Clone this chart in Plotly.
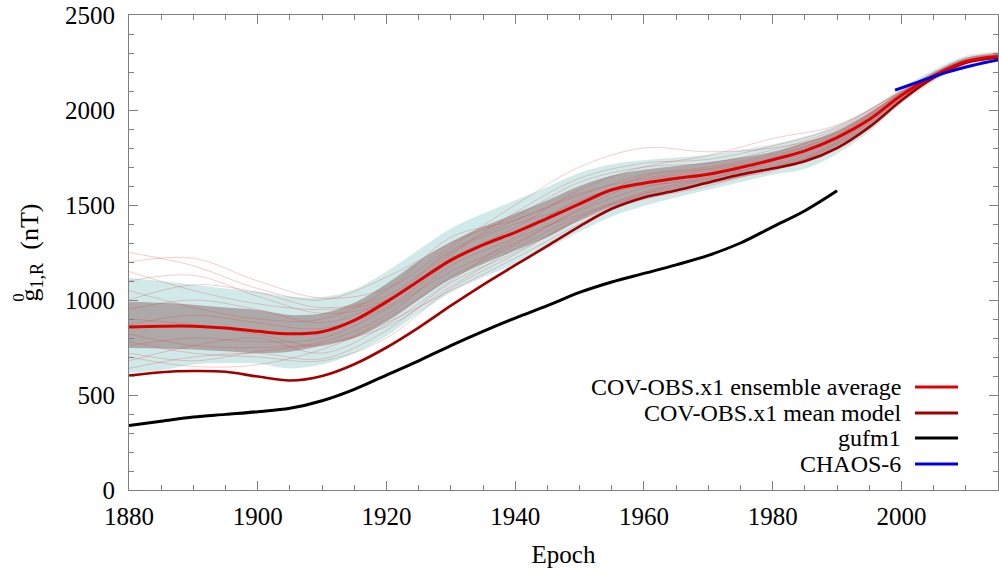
import plotly.graph_objects as go

# ---------------- data ----------------
years5 = [1880, 1885, 1890, 1895, 1900, 1905, 1910, 1915, 1920, 1925, 1930, 1935, 1940,
          1945, 1950, 1955, 1960, 1965, 1970, 1975, 1980, 1985, 1990, 1995, 2000, 2005,
          2010, 2015]

ens_avg = [858, 862, 862, 852, 835, 822, 833, 893, 990, 1100, 1210, 1290, 1356,
           1430, 1506, 1580, 1615, 1640, 1662, 1697, 1738, 1785, 1855, 1950, 2078, 2180,
           2255, 2282]

mean_model = [602, 620, 626, 622, 597, 576, 600, 662, 750, 855, 970, 1080, 1183,
              1285, 1388, 1480, 1540, 1576, 1618, 1660, 1692, 1730, 1800, 1910, 2050, 2170,
              2248, 2275]

cyan_lo = [616, 630, 660, 668, 665, 640, 660, 720, 810, 930, 1040, 1120, 1190,
           1270, 1360, 1440, 1495, 1540, 1580, 1620, 1660, 1690, 1770, 1885, 2035, 2150,
           2235, 2262]
cyan_hi = [1116, 1100, 1080, 1060, 1044, 1018, 1015, 1055, 1150, 1265, 1375, 1455, 1525,
           1595, 1670, 1715, 1735, 1750, 1765, 1790, 1820, 1860, 1920, 2005, 2115, 2210,
           2285, 2305]
gray_lo = [747, 745, 740, 730, 721, 728, 760, 800, 885, 1000, 1110, 1190, 1260,
           1330, 1420, 1490, 1540, 1580, 1610, 1650, 1690, 1735, 1810, 1910, 2050, 2160,
           2245, 2270]
gray_hi = [991, 985, 975, 960, 947, 921, 930, 985, 1085, 1205, 1305, 1385, 1455,
           1525, 1600, 1655, 1685, 1705, 1725, 1750, 1780, 1830, 1890, 1985, 2100, 2200,
           2275, 2295]

gufm_years = [1880, 1885, 1890, 1895, 1900, 1905, 1910, 1915, 1920, 1925, 1930, 1935,
              1940, 1945, 1950, 1955, 1960, 1965, 1970, 1975, 1980, 1985, 1990]
gufm1 = [340, 362, 384, 398, 412, 430, 470, 530, 605, 680, 760, 835,
         905, 970, 1040, 1095, 1140, 1185, 1235, 1300, 1385, 1470, 1575]

chaos_years = [1999, 2003, 2007, 2011, 2015]
chaos6 = [2105, 2152, 2198, 2234, 2263]

# a handful of visible ensemble members
years10 = [1880, 1890, 1900, 1910, 1920, 1930, 1940, 1950, 1960, 1970, 1980, 1990, 2000, 2010, 2015]
members = [
    [1250, 1180, 1060, 1000, 1120, 1300, 1440, 1620, 1700, 1720, 1790, 1900, 2100, 2270, 2300],
    [1200, 1220, 1100, 1010, 1060, 1280, 1500, 1700, 1800, 1780, 1800, 1880, 2090, 2262, 2290],
    [640, 700, 720, 690, 840, 1090, 1250, 1420, 1530, 1600, 1700, 1820, 2060, 2245, 2275],
    [700, 650, 660, 740, 880, 1050, 1220, 1400, 1560, 1630, 1680, 1830, 2070, 2250, 2280],
    [1050, 960, 900, 900, 1050, 1330, 1420, 1560, 1640, 1690, 1760, 1870, 2085, 2258, 2286],
    [760, 800, 780, 800, 950, 1150, 1300, 1470, 1590, 1650, 1720, 1840, 2072, 2252, 2280],
    [950, 1000, 950, 880, 1000, 1250, 1400, 1500, 1650, 1690, 1750, 1880, 2080, 2256, 2284],
    [820, 760, 750, 780, 920, 1180, 1330, 1530, 1600, 1640, 1730, 1860, 2076, 2254, 2282],
    [1150, 1050, 980, 950, 1000, 1220, 1380, 1580, 1700, 1760, 1850, 1920, 2095, 2262, 2290],
    [680, 760, 800, 720, 870, 1100, 1320, 1450, 1560, 1620, 1700, 1800, 2060, 2248, 2276],
    [900, 870, 820, 760, 900, 1120, 1290, 1480, 1620, 1670, 1740, 1850, 2070, 2252, 2281],
    [1000, 1080, 1040, 960, 1020, 1260, 1420, 1550, 1660, 1700, 1770, 1890, 2088, 2260, 2288],
    [780, 720, 700, 680, 800, 1060, 1240, 1430, 1570, 1640, 1710, 1830, 2066, 2250, 2279],
    [870, 920, 880, 850, 960, 1200, 1360, 1520, 1630, 1680, 1745, 1865, 2082, 2256, 2285],
    [1100, 1130, 1020, 930, 990, 1240, 1460, 1640, 1720, 1740, 1810, 1910, 2098, 2266, 2294],
    [720, 680, 730, 770, 860, 1070, 1270, 1440, 1550, 1610, 1690, 1815, 2058, 2246, 2274],
]

legend_labels = ["COV-OBS.x1 ensemble average", "COV-OBS.x1 mean model", "gufm1", "CHAOS-6"]
legend_colors = ["#e00000", "#a00000", "#000000", "#0000e0"]

x_ticks = [1880, 1900, 1920, 1940, 1960, 1980, 2000]
y_ticks = [0, 500, 1000, 1500, 2000, 2500]

# ---------------- figure ----------------
FONT = "Liberation Serif"
fig = go.Figure()

# cyan band
fig.add_trace(go.Scatter(x=years5, y=cyan_lo, mode="lines", line=dict(width=0, shape="spline"),
                         showlegend=False, hoverinfo="skip"))
fig.add_trace(go.Scatter(x=years5, y=cyan_hi, mode="lines", line=dict(width=0, shape="spline"),
                         fill="tonexty", fillcolor="rgba(200,230,230,0.85)",
                         showlegend=False, hoverinfo="skip"))
# gray band
fig.add_trace(go.Scatter(x=years5, y=gray_lo, mode="lines", line=dict(width=0, shape="spline"),
                         showlegend=False, hoverinfo="skip"))
fig.add_trace(go.Scatter(x=years5, y=gray_hi, mode="lines", line=dict(width=0, shape="spline"),
                         fill="tonexty", fillcolor="rgba(150,125,125,0.6)",
                         showlegend=False, hoverinfo="skip"))

for m in members:
    fig.add_trace(go.Scatter(x=years10, y=m, mode="lines",
                             line=dict(width=0.8, color="rgba(225,70,70,0.35)", shape="spline"),
                             showlegend=False, hoverinfo="skip"))

fig.add_trace(go.Scatter(x=gufm_years, y=gufm1, mode="lines",
                         line=dict(width=3, color=legend_colors[2], shape="spline"), showlegend=False))
fig.add_trace(go.Scatter(x=years5, y=mean_model, mode="lines",
                         line=dict(width=2.6, color=legend_colors[1], shape="spline"), showlegend=False))
fig.add_trace(go.Scatter(x=years5, y=ens_avg, mode="lines",
                         line=dict(width=3, color=legend_colors[0], shape="spline"), showlegend=False))
fig.add_trace(go.Scatter(x=chaos_years, y=chaos6, mode="lines",
                         line=dict(width=3, color=legend_colors[3], shape="spline"), showlegend=False))

axis_common = dict(showgrid=False, zeroline=False, showline=True, linecolor="#808080", linewidth=1,
                   mirror="ticks", ticks="inside", tickcolor="#808080", ticklen=9, tickwidth=1,
                   tickfont=dict(family=FONT, size=25, color="black"))

fig.update_xaxes(range=[1880, 2015], tickvals=x_ticks,
                 minor=dict(dtick=5, ticks="inside", ticklen=5, tickcolor="#808080", showgrid=False),
                 ticklabelstandoff=4,
                 title=dict(text="Epoch", font=dict(family=FONT, size=25, color="black"), standoff=16),
                 **axis_common)
fig.update_yaxes(range=[0, 2500], tickvals=y_ticks,
                 minor=dict(dtick=100, ticks="inside", ticklen=5, tickcolor="#808080", showgrid=False),
                 ticklabelstandoff=8,
                 **axis_common)

annotations = []
# y-axis label (g with stacked indices)
annotations.append(dict(text="g<sub>1,R</sub>  (nT)", xref="paper", yref="paper",
                        x=-0.1139, y=0.50, textangle=-90, showarrow=False,
                        xanchor="center", yanchor="middle",
                        font=dict(family=FONT, size=26, color="black")))
annotations.append(dict(text="0", xref="paper", yref="paper",
                        x=-0.1275, y=0.405, textangle=-90, showarrow=False,
                        xanchor="center", yanchor="middle",
                        font=dict(family=FONT, size=17, color="black")))

shapes = []
row_y = [0.2168, 0.1621, 0.1095, 0.0547]
for lab, col, yy in zip(legend_labels, legend_colors, row_y):
    annotations.append(dict(text=lab, xref="paper", yref="paper", x=0.889, y=yy,
                            xanchor="right", yanchor="middle", showarrow=False,
                            borderpad=0,
                            font=dict(family=FONT, size=24, color="black")))
    shapes.append(dict(type="line", xref="paper", yref="paper", x0=0.9045, x1=0.954,
                       y0=yy, y1=yy, line=dict(color=col, width=3)))

fig.update_layout(width=999, height=575, margin=dict(l=129, r=1, t=15, b=85),
                  plot_bgcolor="white", paper_bgcolor="white", showlegend=False,
                  font=dict(family=FONT, size=25, color="black"),
                  annotations=annotations, shapes=shapes)

fig.write_html("out.html")
